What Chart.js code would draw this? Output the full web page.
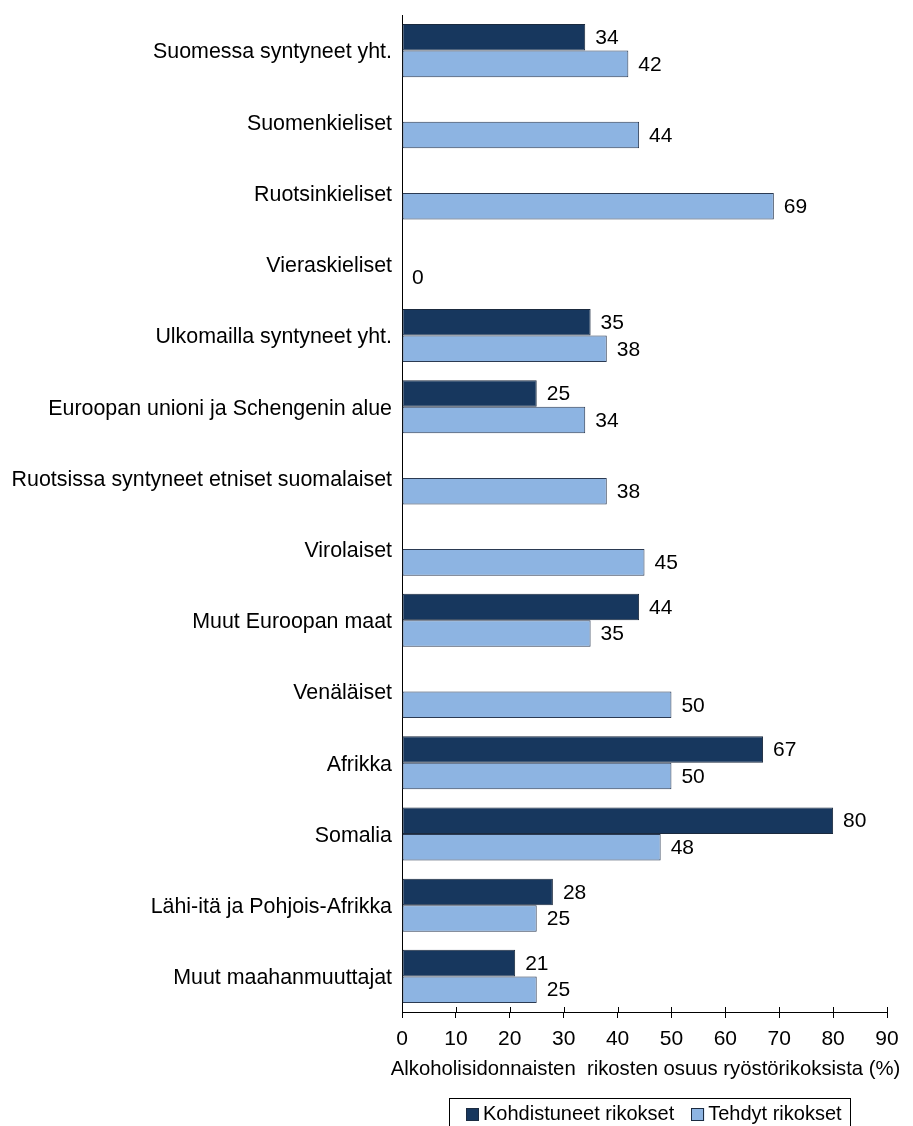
<!DOCTYPE html>
<html>
<head>
<meta charset="utf-8">
<script src="https://cdn.jsdelivr.net/npm/chart.js@4.4.1/dist/chart.umd.min.js"></script>
<style>
  html, body { margin: 0; padding: 0; background: #fff; }
  #wrap { width: 913px; height: 1126px; }
</style>
</head>
<body>
<div id="wrap"><canvas id="chart" width="913" height="1126"></canvas></div>
<script>
// --- data ---
const categories = [
  'Suomessa syntyneet yht.',
  'Suomenkieliset',
  'Ruotsinkieliset',
  'Vieraskieliset',
  'Ulkomailla syntyneet yht.',
  'Euroopan unioni ja Schengenin alue',
  'Ruotsissa syntyneet etniset suomalaiset',
  'Virolaiset',
  'Muut Euroopan maat',
  'Venäläiset',
  'Afrikka',
  'Somalia',
  'Lähi-itä ja Pohjois-Afrikka',
  'Muut maahanmuuttajat',
];
const kohdistuneet = [34, null, null, null, 35, 25, null, null, 44, null, 67, 80, 28, 21];
const tehdyt       = [42, 44, 69, 0, 38, 34, 38, 45, 35, 50, 50, 48, 25, 25];
const seriesLabels = ['Kohdistuneet rikokset', 'Tehdyt rikokset'];
const xMin = 0, xMax = 90, xStep = 10;
const axisTitle = 'Alkoholisidonnaisten  rikosten osuus ryöstörikoksista (%)';

const FONT = '"Liberation Sans", Arial, sans-serif';
const FS = 21;
const DARK = '#17375E';
const LIGHT = '#8DB4E2';

// value labels at the end of each bar
const valueLabels = {
  id: 'valueLabels',
  afterDatasetsDraw(chart) {
    const ctx = chart.ctx;
    ctx.save();
    ctx.font = `${FS}px ${FONT}`;
    ctx.fillStyle = '#000';
    ctx.textBaseline = 'middle';
    ctx.textAlign = 'left';
    chart.data.datasets.forEach((ds, i) => {
      chart.getDatasetMeta(i).data.forEach((bar, j) => {
        const v = ds.data[j];
        if (v === null || v === undefined) return;
        ctx.fillText(String(v), bar.x + 10, bar.y + 1);
      });
    });
    ctx.restore();
  }
};

// tick marks crossing the x axis line + axis title (wider than the plot, so not clipped to it)
const xAxisExtras = {
  id: 'xAxisExtras',
  afterDraw(chart) {
    const x = chart.scales.x;
    const ctx = chart.ctx;
    ctx.save();
    ctx.strokeStyle = '#000';
    ctx.lineWidth = 1;
    x.ticks.forEach(t => {
      const px = Math.round(x.getPixelForValue(t.value)) + 0.5;
      ctx.beginPath();
      ctx.moveTo(px, x.top - 5);
      ctx.lineTo(px, x.top);
      ctx.stroke();
    });
    ctx.font = `20.3px ${FONT}`;
    ctx.fillStyle = '#000';
    ctx.textAlign = 'center';
    ctx.textBaseline = 'middle';
    ctx.fillText(axisTitle, (x.left + x.right) / 2 + 1, x.top + 57);
    ctx.restore();
  }
};

// boxed legend under the axis title
const boxLegend = {
  id: 'boxLegend',
  afterDraw(chart) {
    const ctx = chart.ctx;
    ctx.save();
    ctx.font = `20px ${FONT}`;
    const sq = 13, gapText = 4, gapItem = 17, padL = 16, padR = 9;
    const items = chart.data.datasets.map(ds => ({
      label: ds.label, fill: ds.backgroundColor, w: ctx.measureText(ds.label).width
    }));
    const inner = items.reduce((s, it) => s + sq + gapText + it.w, 0) + gapItem * (items.length - 1);
    const boxW = Math.round(inner + padL + padR);
    const left = 449.5, top = 1098.5, h = 40, cy = 1114;
    ctx.strokeStyle = '#000';
    ctx.lineWidth = 1;
    ctx.strokeRect(left, top, boxW, h);
    let x = Math.round(left + padL);
    ctx.textBaseline = 'middle';
    items.forEach(it => {
      ctx.fillStyle = it.fill;
      ctx.fillRect(x, cy - 6, sq, sq);
      ctx.strokeStyle = '#1c2b40';
      ctx.strokeRect(Math.round(x) + 0.5, cy - 6 + 0.5, sq - 1, sq - 1);
      x += sq + gapText;
      ctx.fillStyle = '#000';
      ctx.fillText(it.label, x, cy);
      x += it.w + gapItem;
    });
    ctx.restore();
  }
};

new Chart(document.getElementById('chart'), {
  type: 'bar',
  data: {
    labels: categories,
    datasets: [
      {
        label: seriesLabels[0],
        data: kohdistuneet,
        backgroundColor: DARK,
        borderColor: '#1b2a3e',
        borderWidth: 1,
        borderSkipped: false,
      },
      {
        label: seriesLabels[1],
        data: tehdyt,
        backgroundColor: LIGHT,
        borderColor: '#2b3a52',
        borderWidth: 1,
        borderSkipped: false,
      },
    ],
  },
  options: {
    indexAxis: 'y',
    responsive: false,
    animation: false,
    devicePixelRatio: 1,
    categoryPercentage: 0.745,
    barPercentage: 1.0,
    layout: { padding: { top: 15, right: 26, left: 0, bottom: 44 } },
    plugins: {
      legend: { display: false },
      tooltip: { enabled: false },
    },
    scales: {
      x: {
        min: xMin,
        max: xMax,
        ticks: {
          stepSize: xStep,
          color: '#000',
          font: { size: FS, family: FONT },
          padding: 9,
          maxRotation: 0,
        },
        grid: { display: true, drawOnChartArea: false, tickLength: 6, color: '#000' },
        border: { display: true, color: '#000', width: 1 },
        title: { display: false },
        afterFit(scale) { scale.height = 70; },
      },
      y: {
        ticks: {
          color: '#000',
          font: { size: 21.4, family: FONT },
          padding: 10,
          labelOffset: 2,
          autoSkip: false,
        },
        grid: { display: false, drawTicks: false },
        border: { display: true, color: '#000', width: 1 },
        afterFit(scale) {
          scale.width = 402;
          scale.paddingTop = 0;
          scale.paddingBottom = 0;
        },
      },
    },
  },
  plugins: [valueLabels, xAxisExtras, boxLegend],
});
</script>
</body>
</html>
